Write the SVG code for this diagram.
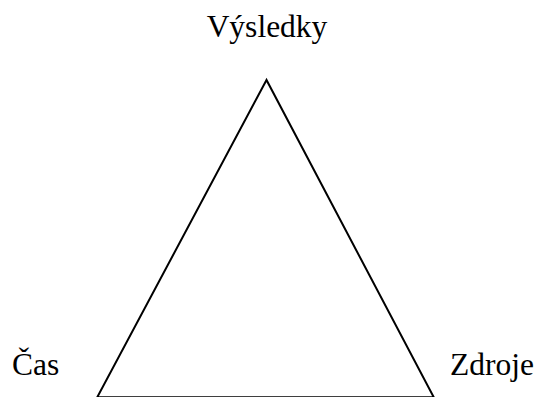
<svg xmlns="http://www.w3.org/2000/svg" width="541" height="397" viewBox="0 0 541 397">
<style>
.lbl{font-family:"Liberation Serif","Times New Roman",serif;font-size:31.5px;fill:#000}
.edge{fill:none;stroke:#000;stroke-width:2;stroke-linejoin:miter}
</style>
<rect width="541" height="397" fill="#fff"/>
<g id="connectors">
<polygon class="edge" points="266.5,80 97.2,397.3 433.8,397.3"/>
</g>
<g id="node-vysledky"><text class="lbl" x="267" y="37" text-anchor="middle">Výsledky</text></g>
<g id="node-cas"><text class="lbl" x="12" y="375">Čas</text></g>
<g id="node-zdroje"><text class="lbl" x="450" y="375">Zdroje</text></g>
</svg>
